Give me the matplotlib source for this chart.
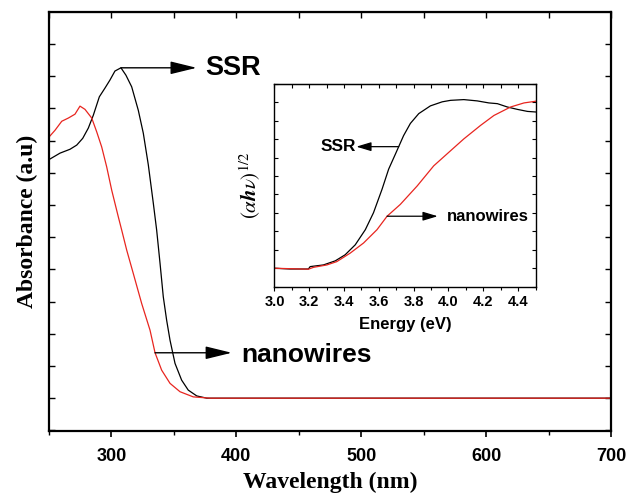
import matplotlib
matplotlib.use("Agg")
import matplotlib.pyplot as plt
from matplotlib.ticker import MultipleLocator

plt.rcParams['mathtext.fontset'] = 'stix'

# main spectrum: wavelength (nm) vs absorbance (a.u.)
ssr_nm = [250, 258.8, 266.8, 272.2, 277.0, 281.5, 285.5, 290.3, 294.8, 298.8, 302.8,
          307.6, 311.6, 316.2, 321.5, 325.5, 329.5, 333.5, 336.2, 338.9, 341.5, 344.2,
          346.9, 350.9, 356.2, 361.5, 368.3, 376.3, 400, 500, 600, 700]
ssr_abs = [0.741, 0.761, 0.773, 0.786, 0.807, 0.839, 0.879, 0.936, 0.963, 0.988, 1.016,
           1.026, 1.003, 0.967, 0.894, 0.823, 0.725, 0.606, 0.522, 0.419, 0.315, 0.242,
           0.180, 0.108, 0.056, 0.025, 0.007, 0.0, 0.0, 0.0, 0.0, 0.0]

nw_nm = [250, 254.8, 260.2, 265.5, 270.8, 274.8, 278.8, 284.2, 288.2, 292.2, 296.2,
         300.2, 305.5, 308.2, 312.2, 317.5, 324.2, 330.9, 334.9, 340.2, 346.9, 354.9,
         365.5, 378.9, 400, 500, 600, 700]
nw_abs = [0.811, 0.832, 0.860, 0.870, 0.882, 0.907, 0.897, 0.870, 0.827, 0.780, 0.718,
          0.646, 0.563, 0.522, 0.460, 0.387, 0.294, 0.211, 0.141, 0.087, 0.046, 0.020,
          0.004, 0.0, 0.0, 0.0, 0.0, 0.0]

# inset: Tauc plot, energy (eV) vs (alpha h nu)^1/2
ssr_ev = [3.0, 3.089, 3.195, 3.205, 3.281, 3.349, 3.406, 3.464, 3.522, 3.569, 3.618,
          3.656, 3.695, 3.742, 3.781, 3.829, 3.896, 3.964, 4.012, 4.088, 4.165, 4.232,
          4.281, 4.338, 4.396, 4.454, 4.5]
ssr_tauc = [0.0, -0.004, -0.004, 0.009, 0.018, 0.040, 0.073, 0.127, 0.209, 0.301, 0.428,
            0.537, 0.619, 0.719, 0.785, 0.838, 0.880, 0.902, 0.910, 0.914, 0.907, 0.896,
            0.892, 0.874, 0.861, 0.850, 0.847]

nw_ev = [3.0, 3.195, 3.224, 3.301, 3.358, 3.435, 3.512, 3.589, 3.647, 3.723, 3.820,
         3.915, 4.012, 4.088, 4.184, 4.261, 4.357, 4.434, 4.5]
nw_tauc = [0.0, -0.005, 0.005, 0.018, 0.036, 0.082, 0.137, 0.209, 0.282, 0.346, 0.446,
           0.555, 0.637, 0.701, 0.774, 0.828, 0.874, 0.896, 0.905]

sans = ['Liberation Sans', 'DejaVu Sans']
serif = ['Liberation Serif', 'DejaVu Serif']
red = '#e8251f'

fig = plt.figure(figsize=(6.3, 4.94), dpi=100)
ax = fig.add_axes([0.0778, 0.1275, 0.892, 0.848])

ax.plot(ssr_nm, ssr_abs, color='black', lw=0.9)
ax.plot(nw_nm, nw_abs, color=red, lw=0.9)

ax.set_xlim(250, 700)
ax.set_ylim(-0.102, 1.199)
ax.xaxis.set_major_locator(MultipleLocator(100))
ax.xaxis.set_minor_locator(MultipleLocator(50))
ax.yaxis.set_major_locator(MultipleLocator(0.1))
ax.tick_params(axis='x', which='major', direction='out', length=4, width=1.2, pad=8,
               labelsize=13)
ax.tick_params(axis='x', which='minor', direction='out', length=3, width=1.0)
ax.tick_params(axis='y', direction='in', length=4, width=1.0, right=True,
               labelleft=False)
for lbl in ax.get_xticklabels():
    lbl.set_family(sans)
    lbl.set_fontweight('bold')
for sp in ax.spines.values():
    sp.set_linewidth(1.6)

top = ax.secondary_xaxis('top')
top.xaxis.set_major_locator(MultipleLocator(50))
top.tick_params(direction='in', length=4, width=1.0, labeltop=False)

ax.set_xlabel('Wavelength (nm)', family=serif, fontweight='bold', fontsize=17, labelpad=5)
ax.set_ylabel('Absorbance (a.u)', family=serif, fontweight='bold', fontsize=17, labelpad=8)

arrow = dict(arrowstyle='-|>,head_length=1.35,head_width=0.33', color='black', lw=1.0,
             mutation_scale=12, shrinkA=0, shrinkB=0)
ax.annotate('', xy=(368.2, 1.026), xytext=(307.6, 1.026), arrowprops=arrow)
ax.text(375.5, 1.026, 'SSR', family=sans, fontweight='bold', fontsize=19.5, va='center')
ax.annotate('', xy=(396.3, 0.141), xytext=(334.9, 0.141), arrowprops=arrow)
ax.text(403.7, 0.134, 'nanowires', family=sans, fontweight='bold', fontsize=19, va='center')

# inset
ins = fig.add_axes([0.4357, 0.4196, 0.4143, 0.4109])
ins.plot(ssr_ev, ssr_tauc, color='black', lw=0.9)
ins.plot(nw_ev, nw_tauc, color=red, lw=0.9)
ins.set_xlim(3.0, 4.5)
ins.set_ylim(-0.1, 1.0)
ins.xaxis.set_major_locator(MultipleLocator(0.2))
ins.xaxis.set_minor_locator(MultipleLocator(0.1))
ins.yaxis.set_major_locator(MultipleLocator(0.1))
ins.tick_params(axis='x', which='major', direction='out', length=3, width=0.8, pad=3,
                labelsize=10.5)
ins.tick_params(axis='x', which='minor', direction='out', length=2, width=0.8)
ins.tick_params(axis='y', direction='in', length=3, width=0.8, right=True, labelleft=False)
for lbl in ins.get_xticklabels():
    lbl.set_family(sans)
    lbl.set_fontweight('bold')
for sp in ins.spines.values():
    sp.set_linewidth(1.0)
itop = ins.secondary_xaxis('top')
itop.xaxis.set_major_locator(MultipleLocator(0.1))
itop.tick_params(direction='in', length=3, width=0.8, labeltop=False)

ins.set_xlabel('Energy (eV)', family=sans, fontweight='bold', fontsize=12, labelpad=6)
ins.set_ylabel(r'$(\alpha \boldsymbol{h}\nu)^{1/2}$', fontsize=15, labelpad=8)

small = dict(arrowstyle='-|>,head_length=1.0,head_width=0.3', color='black', lw=0.9,
             mutation_scale=9, shrinkA=0, shrinkB=0)
ins.annotate('', xy=(3.47, 0.659), xytext=(3.714, 0.659), arrowprops=small)
ins.text(3.47, 0.659, 'SSR', family=sans, fontweight='bold', fontsize=12.5, va='center', ha='right')
ins.annotate('', xy=(3.938, 0.282), xytext=(3.647, 0.282), arrowprops=small)
ins.text(3.992, 0.282, 'nanowires', family=sans, fontweight='bold', fontsize=12, va='center')

fig.savefig('out.png', dpi=100)
